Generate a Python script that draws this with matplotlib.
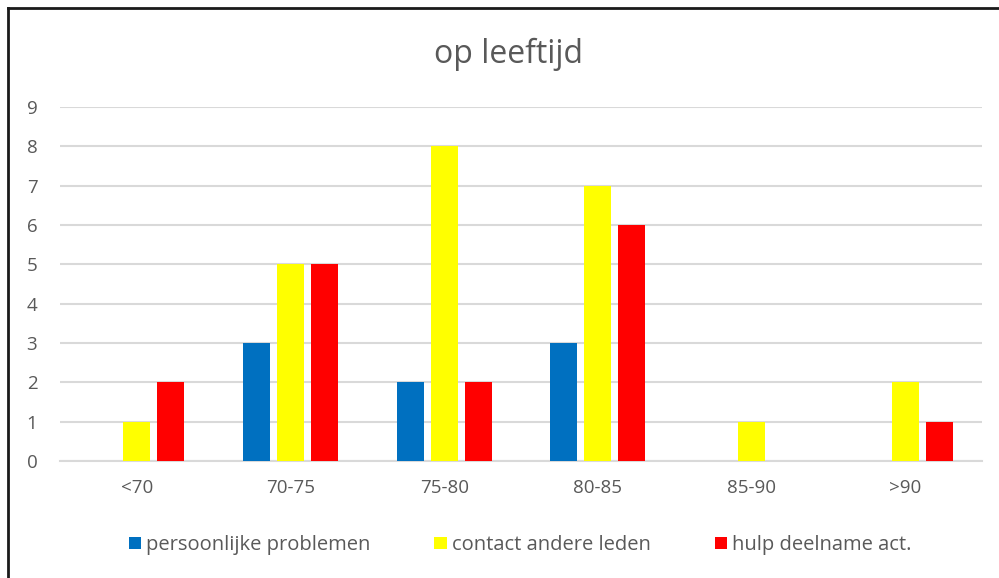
import matplotlib
matplotlib.use("Agg")
import matplotlib.pyplot as plt
import numpy as np
from matplotlib.lines import Line2D

categories = ["<70", "70-75", "75-80", "80-85", "85-90", ">90"]
series_names = ["persoonlijke problemen", "contact andere leden", "hulp deelname act."]
persoonlijke = [0, 3, 2, 3, 0, 0]
contact = [1, 5, 8, 7, 1, 2]
hulp = [2, 5, 2, 6, 0, 1]
colors = ["#0070C0", "#FFFF00", "#FF0000"]

plt.rcParams['font.family'] = ['Open Sans', 'DejaVu Sans']
fig = plt.figure(figsize=(9.99, 5.78), dpi=100)
# border: top and left only
fig.add_artist(Line2D([8/999, 1.0], [1-8/578, 1-8/578], transform=fig.transFigure,
                      color="#1a1a1a", linewidth=2))
fig.add_artist(Line2D([8/999, 8/999], [0, 1-8/578], transform=fig.transFigure,
                      color="#1a1a1a", linewidth=2))
ax = fig.add_axes([60/999, 1-461/578, 922/999, 354/578])

x = np.arange(len(categories))
w = 0.176
step = 0.221
for i, (vals, c, name) in enumerate(zip([persoonlijke, contact, hulp], colors, series_names)):
    ax.bar(x + (i-1)*step, vals, width=w, color=c, label=name, zorder=3)

ax.set_xlim(-0.5, len(categories)-0.5)
ax.set_ylim(0, 9)
ax.set_yticks(range(0, 10))
ax.set_xticks(x)
ax.set_xticklabels(categories)
ax.yaxis.grid(True, color="#d9d9d9", linewidth=1.5, zorder=0)
for s in ["top", "right", "left"]:
    ax.spines[s].set_visible(False)
ax.spines["bottom"].set_color("#d9d9d9")
ax.spines["bottom"].set_linewidth(1.5)
ax.tick_params(axis="both", length=0, colors="#595959", labelsize=13.5)
ax.tick_params(axis="x", pad=13)
for lbl in ax.get_yticklabels():
    lbl.set_horizontalalignment("left")
ax.yaxis.set_tick_params(pad=24)

fig.text(0.509, 1-54/578, "op leeftijd", ha="center", va="center", fontsize=23, color="#595959")
fig.legend(loc="center", bbox_to_anchor=(520/999, 1-545/578), ncol=3, frameon=False,
           fontsize=14.5, labelcolor="#595959", handlelength=0.6, handleheight=0.6,
           handletextpad=0.25, columnspacing=3.2)
fig.savefig("out.png", dpi=100)
